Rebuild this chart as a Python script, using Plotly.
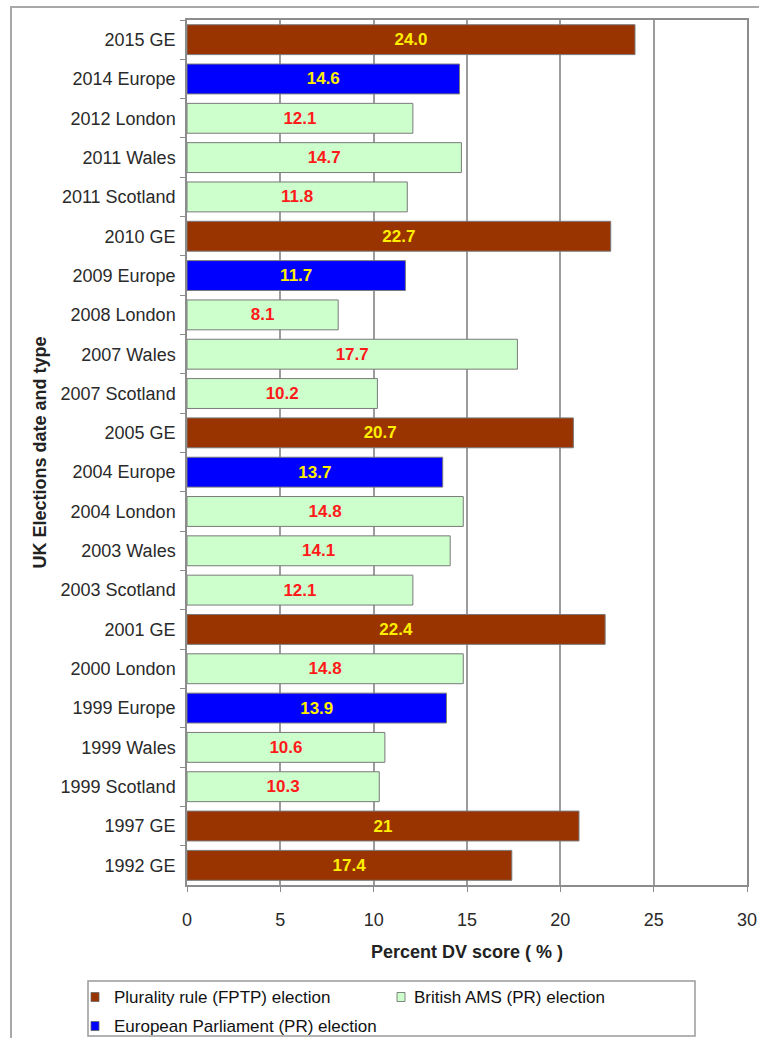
import plotly.graph_objects as go

# Elections, listed top to bottom as they appear on the chart
elections = [
    "2015 GE", "2014 Europe", "2012 London", "2011 Wales", "2011 Scotland",
    "2010 GE", "2009 Europe", "2008 London", "2007 Wales", "2007 Scotland",
    "2005 GE", "2004 Europe", "2004 London", "2003 Wales", "2003 Scotland",
    "2001 GE", "2000 London", "1999 Europe", "1999 Wales", "1999 Scotland",
    "1997 GE", "1992 GE",
]
# Deviation from proportionality (DV) score, %
dv_scores = [
    24.0, 14.6, 12.1, 14.7, 11.8,
    22.7, 11.7, 8.1, 17.7, 10.2,
    20.7, 13.7, 14.8, 14.1, 12.1,
    22.4, 14.8, 13.9, 10.6, 10.3,
    21, 17.4,
]
# Electoral system of each election
systems = [
    "FPTP", "EU", "AMS", "AMS", "AMS",
    "FPTP", "EU", "AMS", "AMS", "AMS",
    "FPTP", "EU", "AMS", "AMS", "AMS",
    "FPTP", "AMS", "EU", "AMS", "AMS",
    "FPTP", "FPTP",
]
x_ticks = [0, 5, 10, 15, 20, 25, 30]

series = {
    "FPTP": dict(name="Plurality rule (FPTP) election", fill="#993300", text="#FFEE00"),
    "AMS": dict(name="British AMS (PR) election", fill="#CCFFCC", text="#FF1A1A"),
    "EU": dict(name="European Parliament (PR) election", fill="#0000FF", text="#FFEE00"),
}


def fmt(v):
    return f"{v:.1f}" if isinstance(v, float) else str(v)


W, H = 759, 1038
L, R, T, B = 187, 747, 20, 885  # plot area in pixels


def px2x(px):
    return (px - L) / (R - L)


def px2y(py):
    return (B - py) / (B - T)


FONT = "Liberation Sans, Arial, sans-serif"

fig = go.Figure()
for key in ["FPTP", "AMS", "EU"]:
    s = series[key]
    idx = [i for i, k in enumerate(systems) if k == key]
    fig.add_trace(go.Bar(
        orientation="h",
        y=[elections[i] for i in idx],
        x=[dv_scores[i] for i in idx],
        text=[fmt(dv_scores[i]) for i in idx],
        name=s["name"],
        width=0.76,
        marker=dict(color=s["fill"], line=dict(color="#7a7a7a", width=1)),
        textposition="inside",
        insidetextanchor="middle",
        textangle=0,
        textfont=dict(family=FONT, size=17, color=s["text"], weight="bold"),
        showlegend=False,
    ))

shapes = [
    # outer chart frame
    dict(type="rect", xref="paper", yref="paper",
         x0=px2x(11), x1=px2x(800), y0=px2y(7), y1=px2y(1100),
         line=dict(color="#a8a8a8", width=2), fillcolor="rgba(0,0,0,0)", layer="below"),
    # legend box
    dict(type="rect", xref="paper", yref="paper",
         x0=px2x(88), x1=px2x(695), y0=px2y(981), y1=px2y(1036),
         line=dict(color="#9a9a9a", width=1.5), fillcolor="white"),
]
annotations = []
legend_items = [("FPTP", 95, 997, 112), ("AMS", 401, 997, 412), ("EU", 95, 1026, 112)]
for key, sx, sy, tx in legend_items:
    shapes.append(dict(type="rect", xref="paper", yref="paper",
                       x0=px2x(sx - 4), x1=px2x(sx + 4), y0=px2y(sy - 4.5), y1=px2y(sy + 4.5),
                       line=dict(color="#666666", width=0.8), fillcolor=series[key]["fill"]))
    annotations.append(dict(xref="paper", yref="paper", x=px2x(tx), y=px2y(sy),
                            xanchor="left", yanchor="middle", showarrow=False,
                            text=series[key]["name"],
                            font=dict(family=FONT, size=17, color="#111111")))

fig.update_layout(
    width=W, height=H,
    margin=dict(l=L, r=W - R, t=T, b=H - B, pad=0),
    paper_bgcolor="white", plot_bgcolor="white",
    barmode="overlay",
    font=dict(family=FONT, size=18, color="#2a2a2a"),
    shapes=shapes,
    annotations=annotations,
    xaxis=dict(
        range=[0, 30], tickvals=x_ticks, ticktext=[str(v) for v in x_ticks],
        showgrid=True, gridcolor="#9c9c9c", gridwidth=1.5,
        showline=True, linecolor="#8c8c8c", linewidth=1.5, mirror=True,
        ticks="outside", ticklen=5, tickcolor="#8c8c8c", ticklabelstandoff=13,
        zeroline=False, automargin=False,
        title=dict(text="<b>Percent DV score ( % )</b>", standoff=16,
                   font=dict(family=FONT, size=18, color="#222222")),
    ),
    yaxis=dict(
        type="category", categoryorder="array", categoryarray=elections,
        autorange="reversed", automargin=False,
        showline=True, linecolor="#8c8c8c", linewidth=1.5, mirror=True,
        ticks="outside", ticklen=5, tickcolor="#8c8c8c", tickson="boundaries",
        ticklabelstandoff=6, showgrid=False,
        title=dict(text="<b>UK Elections date and type</b>", standoff=9,
                   font=dict(family=FONT, size=18, color="#222222")),
    ),
)

fig.write_html("out.html")
